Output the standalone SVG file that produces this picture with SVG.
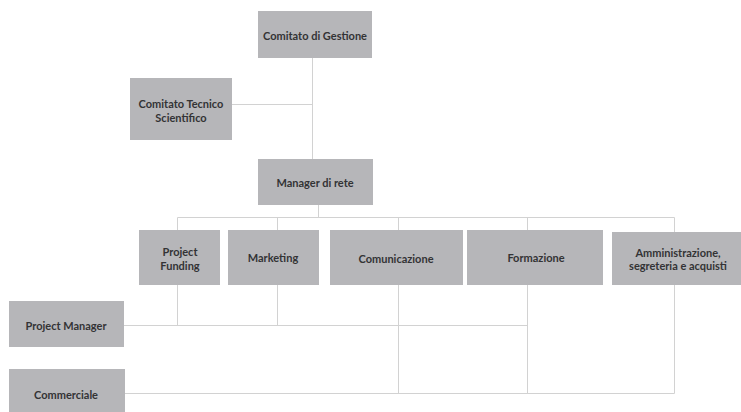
<svg xmlns="http://www.w3.org/2000/svg" width="741" height="412" viewBox="0 0 741 412">
<style>
.box{fill:#b6b6b9;}
.t{font-family:Lato,"Open Sans","Liberation Sans",sans-serif;font-weight:bold;font-size:11px;fill:#333335;text-anchor:middle;dominant-baseline:central;}
.c{stroke:#d2d2d2;stroke-width:1;fill:none;}
</style>
<rect width="741" height="412" fill="#ffffff"/>
<g id="connectors">
<path class="c" d="M312.5 58 V160 M232 104.5 H312.5"/>
<path class="c" d="M318.5 205 V217.5 M177.5 217.5 H674.5 M177.5 217.5 V230 M277.5 217.5 V230 M398.5 217.5 V230 M527.5 217.5 V230 M674.5 217.5 V232"/>
<path class="c" d="M177.5 285 V325.5 M277.5 285 V325.5 M398.5 285 V393.5 M527.5 285 V393.5 M674.5 285 V393.5"/>
<path class="c" d="M124 325.5 H527.5 M125 393.5 H674.5"/>
</g>
<g id="comitato-gestione"><rect class="box" x="258" y="11" width="114" height="47"/><text class="t" x="315" y="35">Comitato di Gestione</text></g>
<g id="comitato-tecnico"><rect class="box" x="130" y="78" width="102" height="62"/><text class="t" x="181" y="103">Comitato Tecnico</text><text class="t" x="181" y="117">Scientifico</text></g>
<g id="manager-rete"><rect class="box" x="258" y="159" width="115" height="46"/><text class="t" x="315" y="182">Manager di rete</text></g>
<g id="project-funding"><rect class="box" x="139" y="230" width="81" height="55"/><text class="t" x="180" y="251">Project</text><text class="t" x="180" y="265">Funding</text></g>
<g id="marketing"><rect class="box" x="228" y="230" width="91" height="55"/><text class="t" x="273" y="257">Marketing</text></g>
<g id="comunicazione"><rect class="box" x="330" y="230" width="133" height="55"/><text class="t" x="396" y="258">Comunicazione</text></g>
<g id="formazione"><rect class="box" x="467" y="230" width="136" height="55"/><text class="t" x="536" y="257">Formazione</text></g>
<g id="amministrazione"><rect class="box" x="612" y="232" width="129" height="53"/><text class="t" x="678" y="252">Amministrazione,</text><text class="t" x="678" y="265">segreteria e acquisti</text></g>
<g id="project-manager"><rect class="box" x="9" y="301" width="115" height="46"/><text class="t" x="66" y="325">Project Manager</text></g>
<g id="commerciale"><rect class="box" x="9" y="369" width="116" height="43"/><text class="t" x="66" y="394">Commerciale</text></g>
</svg>
